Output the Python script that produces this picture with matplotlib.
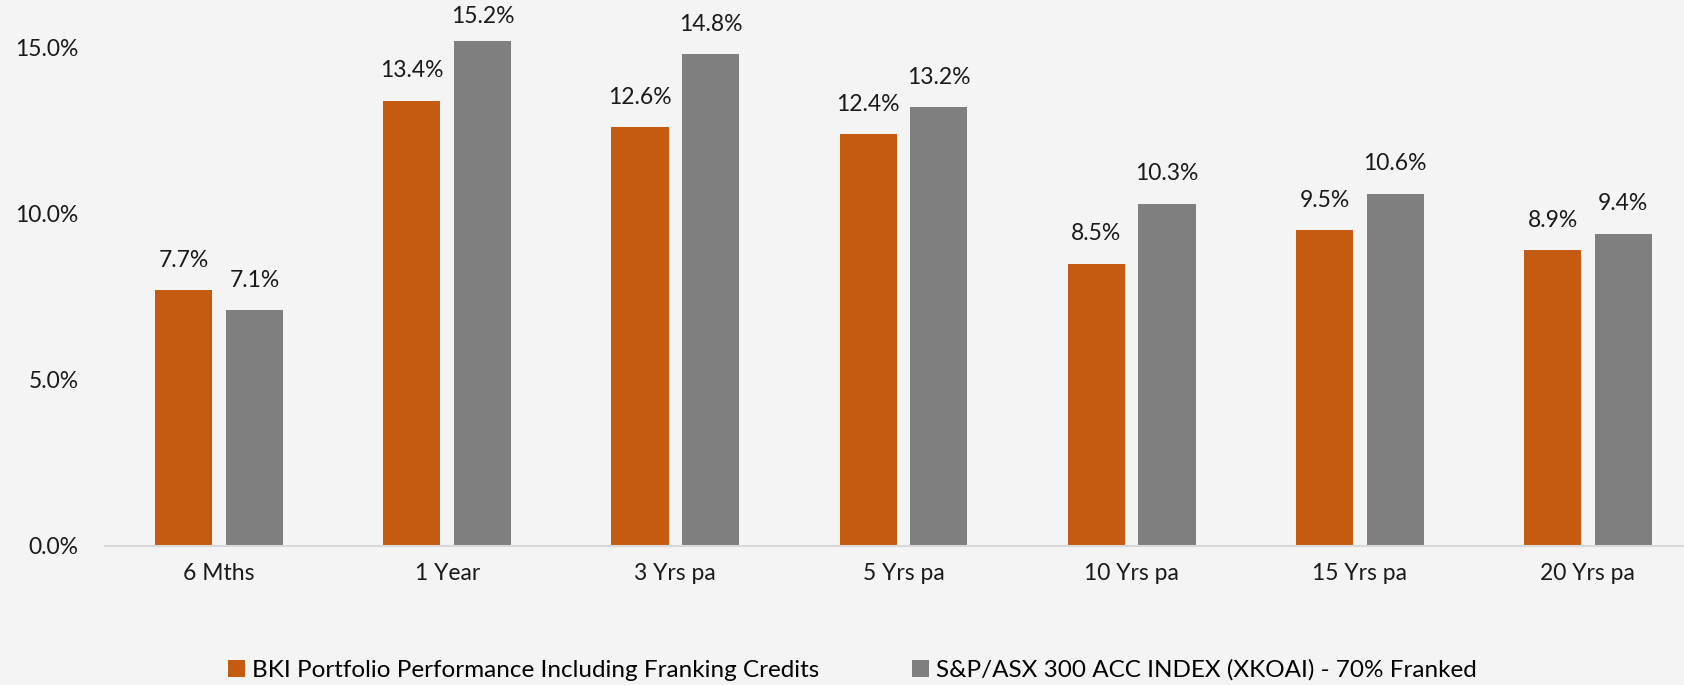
import numpy as np
import matplotlib
matplotlib.use("Agg")
import matplotlib.pyplot as plt

categories = ["6 Mths", "1 Year", "3 Yrs pa", "5 Yrs pa", "10 Yrs pa", "15 Yrs pa", "20 Yrs pa"]
bki = [7.7, 13.4, 12.6, 12.4, 8.5, 9.5, 8.9]
index = [7.1, 15.2, 14.8, 13.2, 10.3, 10.6, 9.4]
series_names = ["BKI Portfolio Performance Including Franking Credits",
                "S&P/ASX 300 ACC INDEX (XKOAI) - 70% Franked"]
yticks = [0, 5, 10, 15]

ORANGE = "#C55A11"
GREY = "#7F7F7F"
FS = 16.5

plt.rcParams['font.family'] = ['Lato', 'DejaVu Sans']

fig = plt.figure(figsize=(16.84, 6.85), dpi=100)
fig.patch.set_facecolor("#f4f4f5")

# axes run a little past the right edge, as in the cropped original
ax = fig.add_axes([105 / 1684, 139 / 685, 1597 / 1684, 546 / 685])
ax.set_facecolor("none")

x = np.arange(len(categories))
w = 0.25
off = 0.155
b1 = ax.bar(x - off, bki, w, color=ORANGE, label=series_names[0])
b2 = ax.bar(x + off, index, w, color=GREY, label=series_names[1])

ytop = 16.43
for bars, vals in ((b1, bki), (b2, index)):
    for r, v in zip(bars, vals):
        # labels sit above the bar, pushed down a bit if they'd leave the figure
        ly = min(v + 0.58, 15.62)
        ax.text(r.get_x() + r.get_width() / 2, ly, f"{v:.1f}%",
                ha="center", va="bottom", fontsize=FS, color="#1a1a1a")

ax.set_xlim(-0.5, 6.5)
ax.set_ylim(0, ytop)
ax.set_xticks(x)
ax.set_xticklabels(categories)
ax.set_yticks(yticks)
ax.set_yticklabels([f"{t:.1f}%" for t in yticks])
ax.tick_params(axis="both", length=0, labelsize=FS, colors="#1a1a1a")
ax.tick_params(axis="y", pad=19)
ax.tick_params(axis="x", pad=12)
for s in ("top", "right", "left"):
    ax.spines[s].set_visible(False)
ax.spines["bottom"].set_color("#d9d9d9")
ax.spines["bottom"].set_linewidth(1.5)

fig.legend(loc="center", bbox_to_anchor=(0.506, 0.022), ncol=2, frameon=False,
           fontsize=17.5, handlelength=0.7, handleheight=0.7, handletextpad=0.3,
           columnspacing=3.8)

fig.savefig("out.png", dpi=100, facecolor=fig.get_facecolor())
